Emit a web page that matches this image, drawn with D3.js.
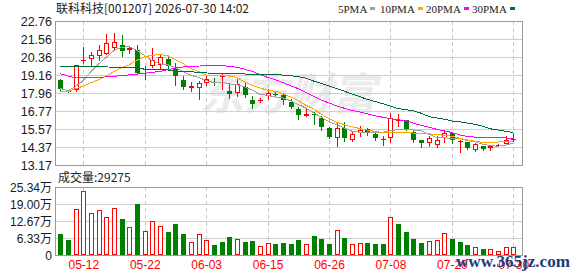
<!DOCTYPE html>
<html>
<head>
<meta charset="utf-8">
<script src="https://cdn.jsdelivr.net/npm/d3@7"></script>
<style>
  html, body { margin: 0; padding: 0; background: #fff; }
  svg { display: block; }
  text { font-family: "Liberation Sans", Arial, sans-serif; }
</style>
</head>
<body>
<div id="chart"></div>
<script>
// trading days shown on the chart
const dates = [
  '05-07', '05-08', '05-11', '05-12', '05-13', '05-14', '05-15', '05-18', '05-19', '05-20',
  '05-21', '05-22', '05-25', '05-26', '05-27', '05-28', '05-29', '06-01', '06-02', '06-03',
  '06-04', '06-05', '06-08', '06-09', '06-10', '06-11', '06-12', '06-15', '06-16', '06-17',
  '06-18', '06-22', '06-23', '06-24', '06-25', '06-26', '06-29', '06-30', '07-01', '07-02',
  '07-03', '07-06', '07-07', '07-08', '07-09', '07-10', '07-13', '07-14', '07-15', '07-16',
  '07-17', '07-20', '07-21', '07-22', '07-23', '07-24', '07-27', '07-28', '07-29', '07-30'
];
const labelDates = ['05-12', '05-22', '06-03', '06-15', '06-26', '07-08', '07-20', '07-30'];

const open = [
  18.86, 18.12, 18.15, 20.07, 20.23, 20.45, 20.58, 20.96, 21.17, 20.85,
  20.85, 19.52, 19.74, 19.85, 20.26, 19.58, 18.86, 18.32, 18.31, 18.64,
  18.68, 19.12, 18.13, 17.98, 18.35, 17.47, 17.43, 17.75, 17.90, 17.80,
  17.39, 16.87, 16.42, 16.57, 16.33, 15.66, 14.96, 15.62, 14.85, 15.30,
  15.55, 15.22, 14.92, 14.94, 16.17, 16.15, 15.40, 14.83, 14.61, 14.51,
  14.94, 15.33, 14.76, 14.67, 14.19, 14.41, 14.27, 14.47, 14.56, 14.85
];
const high = [
  18.92, 18.16, 19.82, 21.02, 20.69, 21.17, 21.90, 21.95, 21.83, 21.12,
  21.13, 19.74, 20.99, 20.56, 20.50, 19.96, 19.08, 18.71, 18.79, 19.08,
  18.97, 19.25, 18.64, 18.93, 18.64, 17.75, 17.60, 18.20, 18.05, 17.98,
  17.54, 17.00, 16.94, 16.72, 16.43, 15.70, 15.99, 16.03, 15.44, 15.77,
  15.65, 15.40, 15.11, 16.61, 16.59, 16.18, 15.44, 14.86, 15.07, 15.07,
  15.44, 15.40, 14.83, 14.70, 14.63, 14.43, 14.52, 14.56, 15.07, 15.29
];
const low = [
  18.15, 18.02, 18.10, 19.96, 19.74, 20.16, 20.55, 20.87, 20.40, 20.60,
  19.22, 18.90, 19.72, 19.58, 19.55, 18.53, 18.25, 18.08, 17.58, 18.48,
  18.53, 18.20, 17.60, 17.75, 17.69, 16.99, 17.38, 17.54, 17.70, 17.25,
  16.94, 16.26, 16.40, 15.93, 15.48, 14.96, 14.45, 14.78, 14.78, 15.09,
  15.18, 14.83, 14.51, 14.67, 15.77, 15.53, 14.67, 14.39, 14.45, 14.39,
  14.71, 14.61, 14.06, 14.25, 14.08, 14.17, 14.17, 14.44, 14.54, 14.78
];
const close = [
  18.20, 18.06, 19.80, 20.17, 20.49, 20.85, 21.29, 21.33, 20.73, 20.97,
  19.30, 19.56, 20.18, 20.36, 19.78, 19.08, 18.35, 18.44, 18.64, 18.93,
  18.64, 19.12, 17.93, 18.57, 17.80, 17.20, 17.53, 17.99, 17.85, 17.49,
  17.06, 16.50, 16.59, 16.52, 15.71, 15.04, 15.66, 14.96, 15.23, 15.48,
  15.31, 14.94, 14.88, 16.33, 16.17, 15.55, 14.84, 14.65, 14.96, 14.83,
  15.33, 14.83, 14.76, 14.30, 14.54, 14.25, 14.43, 14.52, 14.81, 14.93
];
// volume in 万 (10k)
const volume = [
  7.83, 5.59, 17.1, 23.8, 15.5, 16.8, 14.2, 17.4, 13.5, 10.4,
  19.0, 8.8, 12.7, 10.8, 8.6, 11.6, 7.8, 4.7, 7.7, 5.5,
  3.7, 4.8, 6.7, 5.8, 4.8, 5.2, 3.4, 4.3, 4.1, 4.5,
  4.1, 5.6, 4.0, 7.1, 6.0, 4.1, 9.2, 6.3, 4.0, 4.3,
  4.5, 4.1, 4.1, 14.0, 11.6, 8.6, 6.0, 4.5, 5.1, 5.6,
  8.1, 6.0, 4.8, 3.7, 3.0, 2.2, 2.2, 1.4, 3.0, 2.93
];
const lastVolume = '29275';

const ma5 = [
  18.26, 18.13, 18.40, 18.80, 19.40, 19.90, 20.35, 20.80, 21.02, 21.04,
  20.80, 20.45, 20.10, 19.90, 19.85, 19.65, 19.40, 19.15, 19.00, 18.80,
  18.65, 18.68, 18.58, 18.52, 18.38, 18.15, 17.88, 17.80, 17.70, 17.63,
  17.45, 17.20, 16.95, 16.65, 16.35, 16.05, 15.85, 15.62, 15.42, 15.35,
  15.36, 15.32, 15.35, 15.45, 15.53, 15.52, 15.50, 15.45, 15.22, 15.00,
  14.98, 14.95, 14.95, 14.80, 14.72, 14.55, 14.46, 14.42, 14.50, 14.62
];
const ma10 = [
  18.04, 18.06, 18.25, 18.43, 18.65, 18.85, 19.10, 19.40, 19.65, 19.85,
  20.15, 20.38, 20.48, 20.52, 20.45, 20.18, 19.92, 19.60, 19.40, 19.15,
  19.12, 19.12, 19.10, 19.00, 18.70, 18.48, 18.30, 18.15, 18.08, 17.92,
  17.70, 17.45, 17.15, 16.90, 16.55, 16.25, 16.02, 15.85, 15.72, 15.60,
  15.50, 15.40, 15.33, 15.35, 15.35, 15.33, 15.30, 15.28, 15.25, 15.20,
  15.15, 15.08, 14.95, 14.85, 14.75, 14.68, 14.68, 14.70, 14.72, 14.76
];
const ma20 = [
  19.25, 19.10, 18.98, 18.97, 18.98, 19.00, 19.04, 19.08, 19.12, 19.17,
  19.22, 19.28, 19.34, 19.40, 19.52, 19.63, 19.70, 19.74, 19.76, 19.78,
  19.80, 19.78, 19.75, 19.68, 19.55, 19.40, 19.20, 19.00, 18.86, 18.65,
  18.45, 18.25, 18.00, 17.75, 17.50, 17.30, 17.10, 16.95, 16.80, 16.70,
  16.58, 16.45, 16.35, 16.25, 16.18, 16.12, 15.95, 15.82, 15.68, 15.55,
  15.45, 15.33, 15.18, 15.06, 15.03, 15.00, 15.00, 14.98, 14.97, 14.96
];
const ma30 = [
  19.75, 19.74, 19.74, 19.73, 19.74, 19.72, 19.71, 19.66, 19.65, 19.64,
  19.63, 19.56, 19.55, 19.54, 19.50, 19.45, 19.38, 19.37, 19.35, 19.30,
  19.28, 19.27, 19.26, 19.25, 19.23, 19.21, 19.19, 19.18, 19.18, 19.16,
  19.12, 19.05, 18.95, 18.76, 18.60, 18.43, 18.26, 18.08, 17.90, 17.72,
  17.54, 17.40, 17.25, 17.09, 16.92, 16.86, 16.77, 16.62, 16.40, 16.30,
  16.22, 16.10, 16.05, 15.96, 15.88, 15.75, 15.58, 15.50, 15.42, 15.33
];

const priceTicks = [22.76, 21.56, 20.36, 19.16, 17.96, 16.77, 15.57, 14.37, 13.17];
const volTicks = [25.34, 19.00, 12.67, 6.33, 0];

const maSeries = [
  { name: '5PMA', values: ma5, color: '#a0a0a0' },
  { name: '10PMA', values: ma10, color: '#ffa500' },
  { name: '20PMA', values: ma20, color: '#ff00ff' },
  { name: '30PMA', values: ma30, color: '#006f36' }
];

const width = 578, height = 276;
const left = 56, right = 522;
const priceTop = 21, priceBottom = 165;
const volTop = 187, volBottom = 255;
const RED = '#ff0000', GREEN = '#008000';

const svg = d3.select('#chart').append('svg')
  .attr('width', width)
  .attr('height', height)
  .attr('viewBox', `0 0 ${width} ${height}`);

const x = d3.scalePoint().domain(dates).range([60.3, 513.3]);
const yP = d3.scaleLinear().domain([13.17, 22.76]).range([priceBottom, priceTop]);
const yV = d3.scaleLinear().domain([0, 25.34]).range([volBottom, volTop]);
const px = d => Math.round(x(d));

// faint site watermark behind the candles
svg.append('text')
  .attr('x', 200).attr('y', 110)
  .style('font-family', '"Noto Sans CJK SC", sans-serif')
  .style('font-size', '44px')
  .style('font-weight', 'bold')
  .style('font-style', 'italic')
  .attr('fill', '#ebebeb')
  .text('东方财富');

// horizontal grid
const grid = svg.append('g').attr('shape-rendering', 'crispEdges');
priceTicks.forEach(t => {
  const y = Math.round(yP(t)) + 0.5;
  grid.append('line').attr('x1', left).attr('x2', right).attr('y1', y).attr('y2', y)
    .attr('stroke', '#cfcfcf');
});
volTicks.forEach(t => {
  const y = Math.round(yV(t)) + 0.5;
  grid.append('line').attr('x1', left).attr('x2', right).attr('y1', y).attr('y2', y)
    .attr('stroke', '#cfcfcf');
});

// vertical dashed grid at the labelled dates
labelDates.forEach(d => {
  const xx = px(d) + 0.5;
  [[priceTop, priceBottom], [volTop, volBottom]].forEach(([a, b]) => {
    grid.append('line').attr('x1', xx).attr('x2', xx).attr('y1', a).attr('y2', b)
      .attr('stroke', '#c8c8c8').attr('stroke-dasharray', '4,3');
  });
});

// frames
[[priceTop, priceBottom], [volTop, volBottom]].forEach(([a, b]) => {
  svg.append('rect')
    .attr('x', left - 0.5).attr('y', a + 0.5)
    .attr('width', right - left + 1).attr('height', b - a)
    .attr('fill', 'none').attr('stroke', '#9a9a9a')
    .attr('shape-rendering', 'crispEdges');
});

// candles
const candles = svg.append('g').attr('shape-rendering', 'crispEdges');
dates.forEach((d, i) => {
  const cx = px(d);
  const up = close[i] >= open[i];
  const color = up ? RED : GREEN;
  candles.append('line')
    .attr('x1', cx + 0.5).attr('x2', cx + 0.5)
    .attr('y1', Math.round(yP(high[i]))).attr('y2', Math.round(yP(low[i])) + 1)
    .attr('stroke', color);
  const top = Math.round(yP(Math.max(open[i], close[i])));
  const bot = Math.round(yP(Math.min(open[i], close[i])));
  const h = Math.max(1, bot - top);
  if (up && h > 2) {
    candles.append('rect')
      .attr('x', cx - 1.5).attr('y', top + 0.5)
      .attr('width', 4).attr('height', h - 1)
      .attr('fill', '#fff').attr('stroke', color);
  } else {
    candles.append('rect')
      .attr('x', cx - 2).attr('y', top)
      .attr('width', 5).attr('height', h)
      .attr('fill', color);
  }
});

// moving averages
const line = d3.line()
  .x((v, i) => x(dates[i]))
  .y(v => yP(v));
maSeries.forEach(s => {
  svg.append('path')
    .attr('d', line(s.values))
    .attr('fill', 'none')
    .attr('stroke', s.color)
    .attr('stroke-width', 1)
    .attr('shape-rendering', 'crispEdges');
});

// volume bars (red when close > open)
const bars = svg.append('g').attr('shape-rendering', 'crispEdges');
dates.forEach((d, i) => {
  const cx = px(d);
  const up = close[i] > open[i];
  const top = Math.round(yV(volume[i]));
  if (up) {
    bars.append('rect')
      .attr('x', cx - 1.5).attr('y', top + 0.5)
      .attr('width', 4).attr('height', volBottom - top - 1)
      .attr('fill', '#fff').attr('stroke', RED);
  } else {
    bars.append('rect')
      .attr('x', cx - 2).attr('y', top)
      .attr('width', 5).attr('height', volBottom - top)
      .attr('fill', GREEN);
  }
});

// axes
const priceAxis = svg.append('g')
  .attr('transform', `translate(${left},0.5)`)
  .call(d3.axisLeft(yP).tickValues(priceTicks).tickFormat(d3.format('.2f')).tickSize(0).tickPadding(4));
priceAxis.select('.domain').remove();
priceAxis.selectAll('text').style('font-size', '12.5px').attr('fill', '#1a1a1a');

const volAxis = svg.append('g')
  .attr('transform', `translate(${left},0.5)`)
  .call(d3.axisLeft(yV).tickValues(volTicks)
    .tickFormat(d => d === 0 ? '0' : d3.format('.2f')(d) + '万')
    .tickSize(0).tickPadding(4));
volAxis.select('.domain').remove();
volAxis.selectAll('text')
  .style('font-size', '12px')
  .style('font-family', '"Liberation Sans", "Noto Sans CJK SC", sans-serif')
  .attr('fill', '#1a1a1a');

const dateAxis = svg.append('g')
  .attr('transform', `translate(0,${volBottom})`)
  .call(d3.axisBottom(x).tickValues(labelDates).tickSize(0).tickPadding(5));
dateAxis.select('.domain').remove();
dateAxis.selectAll('text').style('font-size', '12px').attr('fill', RED);

// title
svg.append('text')
  .attr('x', 56).attr('y', 13)
  .style('font-family', '"Noto Sans CJK SC", sans-serif')
  .style('font-size', '12px')
  .attr('fill', '#222')
  .text('联科科技[001207] 2026-07-30 14:02');

// legend
const legendX = [338, 380, 426, 472];
const legend = svg.append('g');
maSeries.forEach((s, i) => {
  const t = legend.append('text')
    .attr('x', legendX[i]).attr('y', 12.5)
    .style('font-family', '"Liberation Serif", serif')
    .style('font-size', '11px')
    .attr('fill', '#222')
    .text(s.name);
  const w = t.node().getComputedTextLength();
  legend.append('rect')
    .attr('x', Math.round(legendX[i] + w + 3)).attr('y', 7)
    .attr('width', 5).attr('height', 3)
    .attr('fill', s.color);
});

// volume caption
svg.append('text')
  .attr('x', 58).attr('y', 182)
  .style('font-family', '"Noto Sans CJK SC", sans-serif')
  .style('font-size', '12px')
  .attr('fill', '#222')
  .text('成交量:' + lastVolume);

// source watermark (sits over the last date label, as in the source image)
svg.append('text')
  .attr('x', 456).attr('y', 267)
  .attr('textLength', 114).attr('lengthAdjust', 'spacingAndGlyphs')
  .style('font-family', '"Liberation Serif", serif')
  .style('font-size', '17px')
  .style('font-weight', 'bold')
  .attr('fill', '#1f3c7a')
  .text('www.365jz.com');
</script>
</body>
</html>
